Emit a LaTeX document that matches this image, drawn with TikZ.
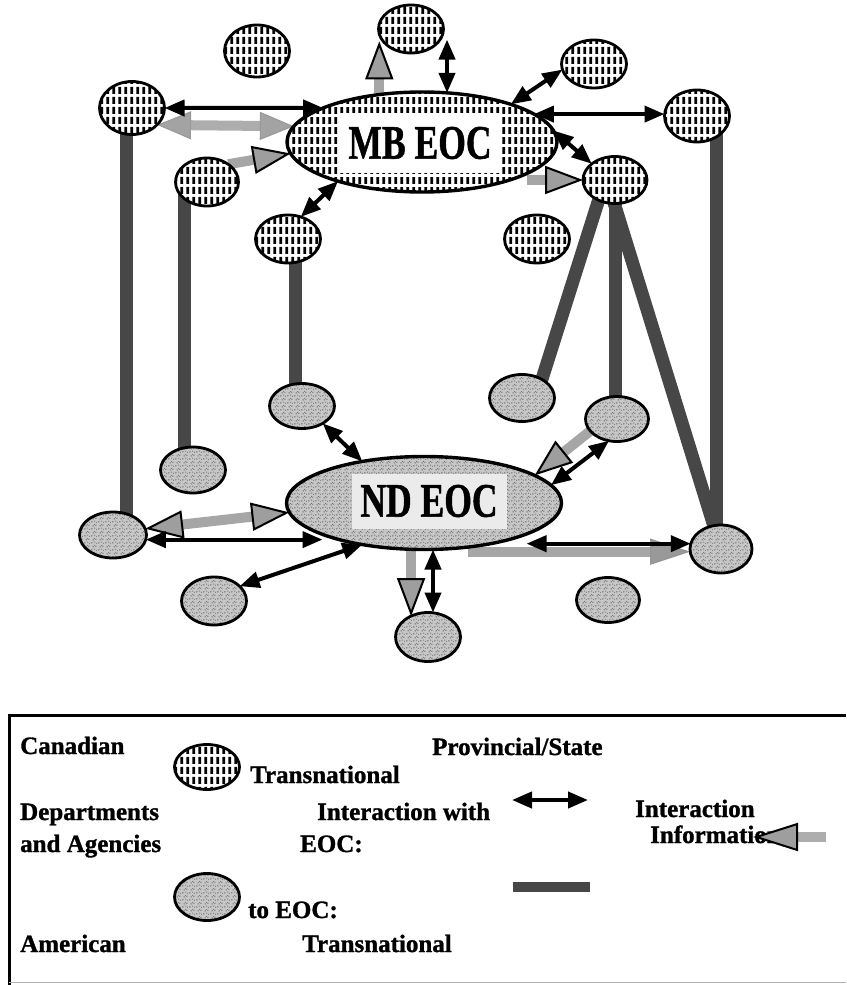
\documentclass[tikz,border=0pt]{standalone}
\usepackage{graphicx}
\usepackage{fontspec}
\newfontfamily\lgfont{Liberation Serif}[UprightFont={* Bold},FakeBold=1.2]
\usetikzlibrary{arrows.meta,shapes.geometric,patterns,backgrounds}

\pgfdeclarepatternformonly{vhatch}{\pgfqpoint{0pt}{0pt}}{\pgfqpoint{6.2pt}{10pt}}{\pgfqpoint{6.2pt}{10pt}}{%
  \pgfsetlinewidth{3pt}%
  \pgfpathmoveto{\pgfqpoint{3.1pt}{1.3pt}}%
  \pgfpathlineto{\pgfqpoint{3.1pt}{8.7pt}}%
  \pgfusepath{stroke}}

\pgfdeclarepatternformonly{speck}{\pgfqpoint{0pt}{0pt}}{\pgfqpoint{7pt}{7pt}}{\pgfqpoint{7pt}{7pt}}{%
  \pgfpathcircle{\pgfqpoint{1pt}{1.2pt}}{0.75pt}%
  \pgfpathcircle{\pgfqpoint{4.3pt}{2.1pt}}{0.6pt}%
  \pgfpathcircle{\pgfqpoint{2.4pt}{4.6pt}}{0.7pt}%
  \pgfpathcircle{\pgfqpoint{5.6pt}{5.4pt}}{0.65pt}%
  \pgfpathcircle{\pgfqpoint{6.2pt}{0.9pt}}{0.5pt}%
  \pgfpathcircle{\pgfqpoint{3.8pt}{6.3pt}}{0.5pt}%
  \pgfusepath{fill}}

\newcommand\eoclabel[1]{\scalebox{0.74}[1]{\lgfont\fontsize{48pt}{50pt}\selectfont #1}}

\tikzset{
  can/.style={ellipse, draw=black, line width=2.8pt, inner sep=0pt, outer sep=0pt,
    minimum width=65pt, minimum height=48pt, preaction={fill=white},
    pattern=vhatch, pattern color=black},
  ame/.style={ellipse, draw=black, line width=2.8pt, inner sep=0pt, outer sep=0pt,
    minimum width=65pt, minimum height=47pt, preaction={fill=black!22},
    pattern=speck, pattern color=black!75},
  bk/.style={draw=black, line width=4pt,
    {Triangle[length=20pt,width=16pt]}-{Triangle[length=20pt,width=16pt]}},
  gr/.style={draw=black!35, line width=10pt,
    -{Triangle[length=38pt,width=28pt,color=black,fill=black!38,line width=2pt]}},
  grdo/.style={draw=black!35, line width=10pt,
    {Triangle[length=38pt,width=28pt,color=black,fill=black!38,line width=2pt]}-{Triangle[length=38pt,width=28pt,color=black,fill=black!38,line width=2pt]}},
  grd/.style={draw=black!32, line width=10pt,
    {Triangle[length=34pt,width=28pt,color=black!40,fill=black!36,line width=1pt]}-{Triangle[length=34pt,width=28pt,color=black!40,fill=black!36,line width=1pt]}},
  grn/.style={draw=black!35, line width=10pt,
    -{Triangle[length=40pt,width=26pt,color=black!42,fill=black!40,line width=1pt]}},
  bar/.style={draw=black!72, line width=13pt},
  lt/.style={anchor=base west, inner sep=0pt, font=\lgfont\fontsize{25pt}{27pt}\selectfont}
}

\begin{document}
\begin{tikzpicture}[x=1pt,y=-1pt]
\useasboundingbox (0,0) rectangle (846,985);

% Canadian nodes
\node[can, minimum height=52pt] (c1) at (257,51) {};
\node[can] (c2) at (411,29) {};
\node[can, minimum height=53pt] (c3) at (132,108) {};
\node[can, minimum width=63pt] (c4) at (207,182) {};
\node[can] (c5) at (288,239) {};
\node[can] (c6) at (594,64) {};
\node[can, minimum height=52pt] (c7) at (697,116) {};
\node[can, minimum width=64pt, minimum height=47pt] (c8) at (615,180) {};
\node[can] (c9) at (537,239) {};

% American nodes
\node[ame, minimum width=67pt, minimum height=46pt] (c10) at (113,535) {};
\node[ame, minimum height=46pt] (c11) at (193,470) {};
\node[ame, minimum height=45pt] (c12) at (302,406) {};
\node[ame, minimum height=48pt] (c13) at (214,601) {};
\node[ame, minimum height=49pt] (c14) at (428,637) {};
\node[ame] (c15) at (522,398) {};
\node[ame, minimum width=63pt, minimum height=45pt] (c16) at (617,419) {};
\node[ame, minimum width=62pt, minimum height=48pt] (c17) at (721,549) {};
\node[ame, minimum width=63pt, minimum height=45pt] (c18) at (608,600) {};

% EOCs
\node[ellipse, draw=black, line width=3.4pt, inner sep=0pt, outer sep=0pt,
  minimum width=270pt, minimum height=100pt, preaction={fill=white},
  pattern=vhatch, pattern color=black] (MB) at (422,142) {};
\node[fill=white, inner sep=0pt, minimum width=160pt, minimum height=60pt] (MBt) at (420,143) {\eoclabel{MB EOC}};

\node[ellipse, draw=black, line width=3.4pt, inner sep=0pt, outer sep=0pt,
  minimum width=275pt, minimum height=93pt, preaction={fill=black!22},
  pattern=speck, pattern color=black!75] (ND) at (424,503) {};
\node[fill=black!8, inner sep=0pt, minimum width=155pt, minimum height=55pt] (NDt) at (429,501) {\eoclabel{ND EOC}};

\begin{pgfonlayer}{background}
% transnational bars
\draw[bar] ([xshift=-6pt]c3.center) -- ([xshift=-6pt]c3.center |- c10.center);
\draw[bar] ([xshift=-23pt]c4.center) -- ([xshift=-23pt]c4.center |- c11.center);
\draw[bar] ([xshift=7pt]c5.center) -- ([xshift=7pt]c5.center |- c12.center);
\draw[bar] ([xshift=19pt]c7.center) -- ([xshift=19pt]c7.center |- c17.center);
\draw[bar] ([xshift=-10pt]c8.center) -- ([xshift=14pt]c15.center);
\draw[bar] (c8.center) -- (c8.center |- c16.center);
\draw[bar] ([xshift=-8pt]c8.center) -- (c17.center);

% information arrows
\draw[grd] (c3.-34) -- (MB.173);
\draw[gr] (c4.40) -- (MB.185);
\draw[gr] (MB.132) -- (MB.132 |- c2.204);
\draw[gr] ([xshift=-30pt]c8.west -| MB.east) -- (c8.west);
\draw[grdo] (c10.11) -- (ND.184);
\draw[gr] (c16.204) -- (ND.14);
\draw[gr] (c14.129 |- ND.south) -- (c14.129);
\draw[grn] ([xshift=44pt]c17.185 -| ND.south) -- (c17.185);

% interaction arrows
\draw[bk] (c3.east) -- (MB.161);
\draw[bk] (MB.63) -- (MB.63 |- c2.-20);
\draw[bk] (MB.23) -- (c6.190);
\draw[bk] (MB.14) -- (MB.14 -| c7.west);
\draw[bk] (MB.5) -- (c8.145);
\draw[bk] (c5.60) -- (MB.205);
\draw[bk] (c12.-40) -- (ND.146);
\draw[bk] (c10.-8) -- ([xshift=36pt]c10.-8 -| ND.west);
\draw[bk] (c13.30) -- (ND.214);
\draw[bk] ([xshift=5pt]c14.north |- ND.south) -- ([xshift=5pt]c14.north);
\draw[bk] (c16.250) -- (ND.8);
\draw[bk] ([xshift=-35pt]c17.170 -| ND.east) -- (c17.170);
\end{pgfonlayer}

% legend frame
\draw[line width=3pt] (9,985) -- (9,715) -- (846,715);
\draw[black!30, line width=1pt] (9,982) -- (846,982);

% legend symbols
\node[can, minimum height=45pt] (lg1) at (207,767) {};
\node[ame] (lg2) at (207,897) {};

% legend texts
\node[lt] (t1) at (20,754) {Canadian};
\node[lt] (t2) at (250,783) {Transnational};
\node[lt] (t3) at (20,820) {Departments};
\node[lt] (t4) at (20,852) {and Agencies};
\node[lt] (t5) at (317,820) {Interaction with};
\node[lt] (t6) at (300,852) {EOC:};
\node[lt] (t7) at (248,918) {to EOC:};
\node[lt] (t8) at (20,952) {American};
\node[lt] (t9) at (302,952) {Transnational};
\node[lt] (t10) at (432,755) {Provincial/State};
\node[lt] (t11) at (635,817) {Interaction};
\node[lt] (t12) at (650,843) {Information};

\coordinate (la1) at (512,800);
\coordinate (la2) at (588,800);
\draw[bk] (la1) -- (la2);
\coordinate (lb1) at (513,887);
\coordinate (lb2) at (590,887);
\draw[bar, line width=10pt] (lb1) -- (lb2);
\coordinate (lg3) at (826,837);
\coordinate (lg4) at (753,837);
\draw[draw=black!32, line width=10pt,
  -{Triangle[length=45pt,width=28pt,color=black,fill=black!38,line width=2pt]}] (lg3) -- (lg4);
\end{tikzpicture}
\end{document}
